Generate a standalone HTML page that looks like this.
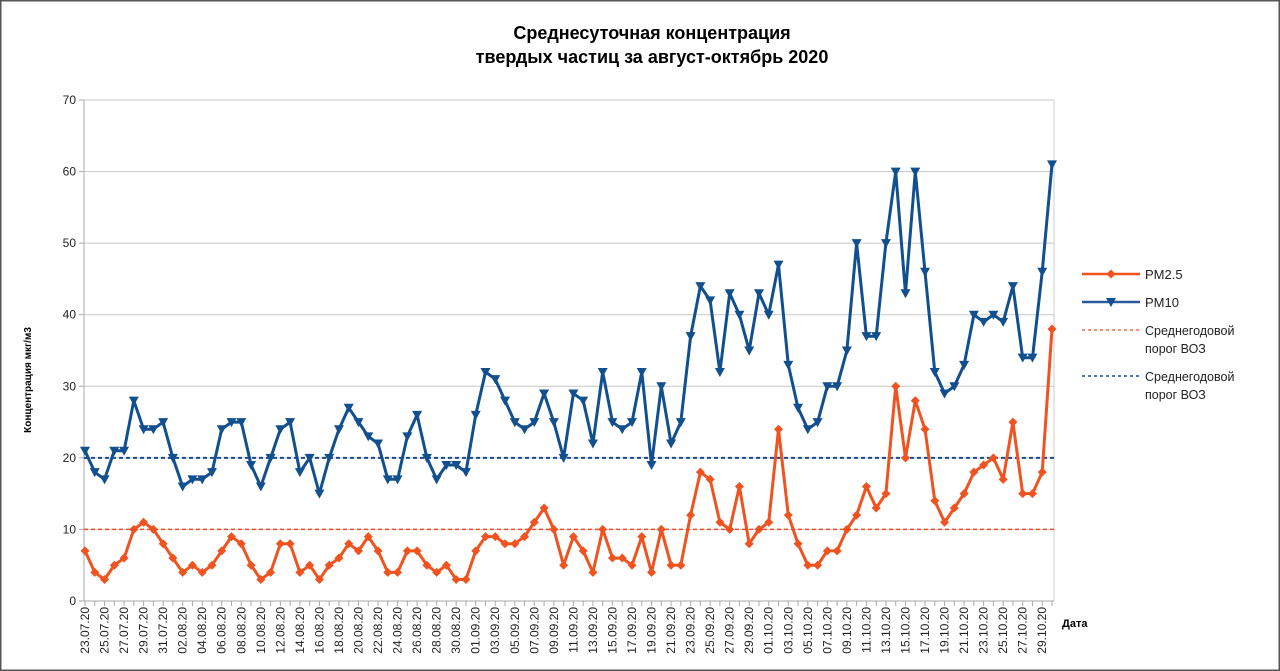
<!DOCTYPE html>
<html><head><meta charset="utf-8"><style>
html,body{margin:0;padding:0;background:#fff;}
svg{display:block;font-family:"Liberation Sans",sans-serif;}
</style></head><body>
<svg id="c" width="1280" height="671" xmlns="http://www.w3.org/2000/svg"></svg>
<script>
var pm10=[21,18,17,21,21,28,24,24,25,20,16,17,17,18,24,25,25,19,16,20,24,25,18,20,15,20,24,27,25,23,22,17,17,23,26,20,17,19,19,18,26,32,31,28,25,24,25,29,25,20,29,28,22,32,25,24,25,32,19,30,22,25,37,44,42,32,43,40,35,43,40,47,33,27,24,25,30,30,35,50,37,37,50,60,43,60,46,32,29,30,33,40,39,40,39,44,34,34,46,61];
var pm25=[7,4,3,5,6,10,11,10,8,6,4,5,4,5,7,9,8,5,3,4,8,8,4,5,3,5,6,8,7,9,7,4,4,7,7,5,4,5,3,3,7,9,9,8,8,9,11,13,10,5,9,7,4,10,6,6,5,9,4,10,5,5,12,18,17,11,10,16,8,10,11,24,12,8,5,5,7,7,10,12,16,13,15,30,20,28,24,14,11,13,15,18,19,20,17,25,15,15,18,38];
var L=84,R=1054,T=100,B=601;
function X(i){return 85+i*(1052-85)/99;}
function Y(v){return B-(B-T)*v/70;}
var s='';
s+='<rect x="0.5" y="0.5" width="1279" height="670" fill="#fff" stroke="#555" stroke-width="2"/>';
s+='<text x="652" y="39" font-size="18" font-weight="bold" text-anchor="middle">Среднесуточная концентрация</text>';
s+='<text x="652" y="63" font-size="18" font-weight="bold" text-anchor="middle">твердых частиц за август-октябрь 2020</text>';
for(var v=0;v<=70;v+=10){var y=Y(v);
 if(v>0)s+='<line x1="'+L+'" x2="'+R+'" y1="'+y+'" y2="'+y+'" stroke="#c8c8c8" stroke-width="1"/>';
 s+='<line x1="'+(L-5)+'" x2="'+L+'" y1="'+y+'" y2="'+y+'" stroke="#aaa"/>';
 s+='<text x="'+(L-8)+'" y="'+(y+4)+'" font-size="12" text-anchor="end" fill="#222">'+v+'</text>';}
s+='<line x1="'+L+'" x2="'+L+'" y1="'+T+'" y2="'+B+'" stroke="#aaa"/>';
s+='<line x1="'+R+'" x2="'+R+'" y1="'+T+'" y2="'+B+'" stroke="#ccc"/>';
s+='<line x1="'+L+'" x2="'+R+'" y1="'+B+'" y2="'+B+'" stroke="#aaa"/>';
var d0=new Date(2020,6,23);
for(var i=0;i<100;i++){var x=X(i);
 s+='<line x1="'+x+'" x2="'+x+'" y1="'+B+'" y2="'+(B+5)+'" stroke="#aaa"/>';
 if(i%2==0){var d=new Date(d0.getTime()+i*864e5+3600e3);
  var t=('0'+d.getDate()).slice(-2)+'.'+('0'+(d.getMonth()+1)).slice(-2)+'.20';
  s+='<text transform="translate('+(x+4)+',607) rotate(-90)" font-size="12" text-anchor="end" fill="#222">'+t+'</text>';}}
s+='<text x="1062" y="627" font-size="11" font-weight="bold">Дата</text>';
s+='<text transform="translate(31,380) rotate(-90)" font-size="10" font-weight="bold" text-anchor="middle">Концентрация мкг/м3</text>';
s+='<line x1="'+L+'" x2="'+R+'" y1="'+Y(10)+'" y2="'+Y(10)+'" stroke="#e8502a" stroke-width="1.5" stroke-dasharray="4,3"/>';
s+='<line x1="'+L+'" x2="'+R+'" y1="'+Y(20)+'" y2="'+Y(20)+'" stroke="#1a4a8a" stroke-width="2" stroke-dasharray="4,3"/>';
function poly(a){return a.map(function(v,i){return X(i).toFixed(1)+','+Y(v).toFixed(1)}).join(' ');}
s+='<polyline points="'+poly(pm10)+'" fill="none" stroke="#124f8f" stroke-width="3" stroke-linejoin="round"/>';
s+='<polyline points="'+poly(pm25)+'" fill="none" stroke="#f0531f" stroke-width="3" stroke-linejoin="round"/>';
pm10.forEach(function(v,i){var x=X(i),y=Y(v);s+='<polygon points="'+(x-5)+','+(y-4)+' '+(x+5)+','+(y-4)+' '+x+','+(y+5)+'" fill="#124f8f"/>';});
pm25.forEach(function(v,i){var x=X(i),y=Y(v);s+='<polygon points="'+x+','+(y-4.5)+' '+(x+4.5)+','+y+' '+x+','+(y+4.5)+' '+(x-4.5)+','+y+'" fill="#f0531f"/>';});
// legend
s+='<line x1="1082" x2="1140" y1="274" y2="274" stroke="#f0531f" stroke-width="2.5"/><polygon points="1111,269.5 1115.5,274 1111,278.5 1106.5,274" fill="#f0531f"/>';
s+='<text x="1145" y="279" font-size="13" fill="#222">PM2.5</text>';
s+='<line x1="1082" x2="1140" y1="302" y2="302" stroke="#2a5a9a" stroke-width="2.5"/><polygon points="1106,298 1116,298 1111,307" fill="#124f8f"/>';
s+='<text x="1145" y="307" font-size="13" fill="#222">PM10</text>';
s+='<line x1="1082" x2="1140" y1="330" y2="330" stroke="#e8502a" stroke-width="1.3" stroke-dasharray="3,3"/>';
s+='<text x="1145" y="335" font-size="12.5" fill="#222">Среднегодовой</text><text x="1145" y="353" font-size="12.5" fill="#222">порог ВОЗ</text>';
s+='<line x1="1082" x2="1140" y1="376" y2="376" stroke="#1a4a8a" stroke-width="1.5" stroke-dasharray="3,3"/>';
s+='<text x="1145" y="381" font-size="12.5" fill="#222">Среднегодовой</text><text x="1145" y="399" font-size="12.5" fill="#222">порог ВОЗ</text>';
document.getElementById('c').innerHTML=s;
</script>
</body></html>
